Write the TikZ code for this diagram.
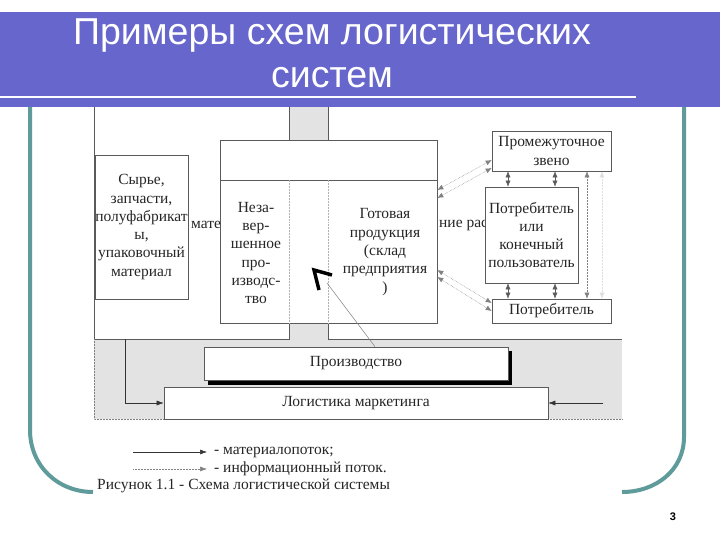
\documentclass[tikz,border=0pt]{standalone}
\usepackage{fontspec}
\setmainfont{Liberation Serif}
\newfontfamily\titlefont{Liberation Sans}
\usetikzlibrary{arrows.meta}
\definecolor{band}{RGB}{102,102,204}
\definecolor{tealframe}{RGB}{95,155,155}
\definecolor{greyarea}{RGB}{227,227,227}
\definecolor{lin}{RGB}{90,90,90}
\newcommand\diagfont{\fontsize{15.5}{18.3}\selectfont}
\begin{document}
\begin{tikzpicture}[x=1pt,y=-1pt,
  box/.style={draw=lin, line width=0.6pt, fill=white, inner sep=0pt, align=center, font=\diagfont, text=black!85},
  txt/.style={inner sep=0pt, align=center, font=\diagfont, text=black!85},
  matflow/.style={draw=black!80, line width=0.5pt, -{Latex[length=7pt,width=5pt]}},
  infoflow/.style={draw=gray, line width=0.5pt, densely dotted},
  both/.style={{Latex[length=6pt,width=5pt]}-{Latex[length=6pt,width=5pt]}},
  frameline/.style={draw=tealframe, line width=4pt},
  thinline/.style={draw=lin, line width=0.5pt}]
\useasboundingbox (0,0) rectangle (720,540);
\fill[white] (0,0) rectangle (720,540);
% title band
\fill[band] (0,12) rectangle (720,107);
\draw[white, line width=2.5pt] (0,97) -- (636,97);
\node[font=\titlefont\fontsize{37.5}{43}\selectfont, text=white] (title1) at (332,35) {Примеры схем логистических};
\node[font=\titlefont\fontsize{37.5}{43}\selectfont, text=white] (title2) at (332,78) {систем};
% teal frame
\draw[frameline] (30,107) -- (30,430) .. controls (30,466) and (58,492) .. (93,492);
\draw[frameline] (684,107) -- (684,437) .. controls (684,470) and (656,492) .. (622,492);
% diagram background
\fill[greyarea] (289,107) rectangle (328,140);
\fill[greyarea] (289,323) rectangle (328,339);
\fill[greyarea] (94,339) rectangle (622,419);
\draw[thinline] (94,107) -- (94,339) -- (289,339) -- (289,323);
\draw[thinline] (328,323) -- (328,339) -- (622,339);
\draw[thinline] (289,107) -- (289,140);
\draw[thinline] (328,107) -- (328,140);
\draw[gray, line width=0.5pt, densely dotted] (94,339) -- (94,419) -- (622,419);
% big box
\node[box, minimum width=217, minimum height=183] (big) at (328.5,231.5) {};
\draw[thinline] (220,180) -- (437,180);
\draw[gray!60, line width=0.5pt, densely dotted] (289,180) -- (289,323);
\draw[gray!60, line width=0.5pt, densely dotted] (328,180) -- (328,323);
\node[txt] (wip) at (256,253) {Неза-\\вер-\\шенное\\про-\\изводс-\\тво};
\node[txt] (fg) at (385,252) {Готовая\\продукция\\(склад\\предприятия\\)};
% left box
\node[box, minimum width=93, minimum height=144] (raw) at (141.5,227) {Сырье,\\запчасти,\\полуфабрикат\\ы,\\упаковочный\\материал};
\node[txt, anchor=west] (mat) at (191,225) {мате};
\node[txt, anchor=west] (nr) at (439,225) {ние рас};
% right boxes
\node[box, minimum width=119, minimum height=40] (inter) at (551.5,151) {Промежуточное\\звено};
\node[box, minimum width=93, minimum height=96] (cons) at (531.5,235) {Потребитель\\или\\конечный\\пользователь};
\node[box, minimum width=119, minimum height=24] (cust) at (551.5,311) {Потребитель};
\coordinate (c508) at (508,0);
\coordinate (c555) at (555,0);
\coordinate (c587) at (587,0);
\coordinate (c602) at (602,0);
\draw[thinline, both] (inter.south -| c508) -- (cons.north -| c508);
\draw[thinline, both] (inter.south -| c555) -- (cons.north -| c555);
\draw[thinline, both] (cons.south -| c508) -- (cust.north -| c508);
\draw[thinline, both] (cons.south -| c555) -- (cust.north -| c555);
\draw[infoflow, both] (inter.south -| c587) -- (cust.north -| c587);
\draw[infoflow, draw=gray!25, both] (inter.south -| c602) -- (cust.north -| c602);
% slanted info pairs
\coordinate (y190) at (0,190);
\coordinate (y198) at (0,198);
\coordinate (y160) at (0,160);
\coordinate (y168) at (0,168);
\coordinate (y270) at (0,270);
\coordinate (y277) at (0,277);
\coordinate (y303) at (0,303);
\coordinate (y311) at (0,311);
\draw[infoflow, both] (big.east |- y190) -- (inter.west |- y160);
\draw[infoflow, both] (big.east |- y198) -- (inter.west |- y168);
\draw[infoflow, both] (big.east |- y270) -- (cust.west |- y303);
\draw[infoflow, both] (big.east |- y277) -- (cust.west |- y311);
% production and marketing
\fill[black] (208,351) rectangle (512,385);
\node[box, minimum width=304, minimum height=33] (prod) at (356,363.5) {Производство};
\node[box, minimum width=384, minimum height=32] (mkt) at (356,403) {Логистика маркетинга};
\coordinate (ls) at (125,339);
\coordinate (rs) at (603,403);
\draw[matflow] (ls) |- (mkt.west);
\draw[matflow] (rs) -- (mkt.east);
% pointer from production
\coordinate (mk) at (327,283);
\draw[gray, line width=0.5pt] ([xshift=19pt]prod.north) -- (mk);
\draw[black, line width=3.5pt, line join=miter] (319,290) -- (314,270) -- (332,275);
% legend
\node[txt, anchor=west] (lt1) at (214,452) {- материалопоток;};
\node[txt, anchor=west] (lt2) at (214,469) {- информационный поток.};
\coordinate (l1) at (133,452);
\coordinate (l2) at (133,469);
\draw[matflow] (l1) -- ([xshift=-7pt]lt1.west);
\draw[infoflow, -{Latex[length=7pt,width=5pt]}] (l2) -- ([xshift=-7pt]lt2.west);
\node[txt, anchor=west] (cap) at (97,486) {Рисунок 1.1 - Схема логистической системы};
\node[font=\titlefont\bfseries\fontsize{11}{13}\selectfont] (pg) at (673,517) {3};
\end{tikzpicture}
\end{document}
